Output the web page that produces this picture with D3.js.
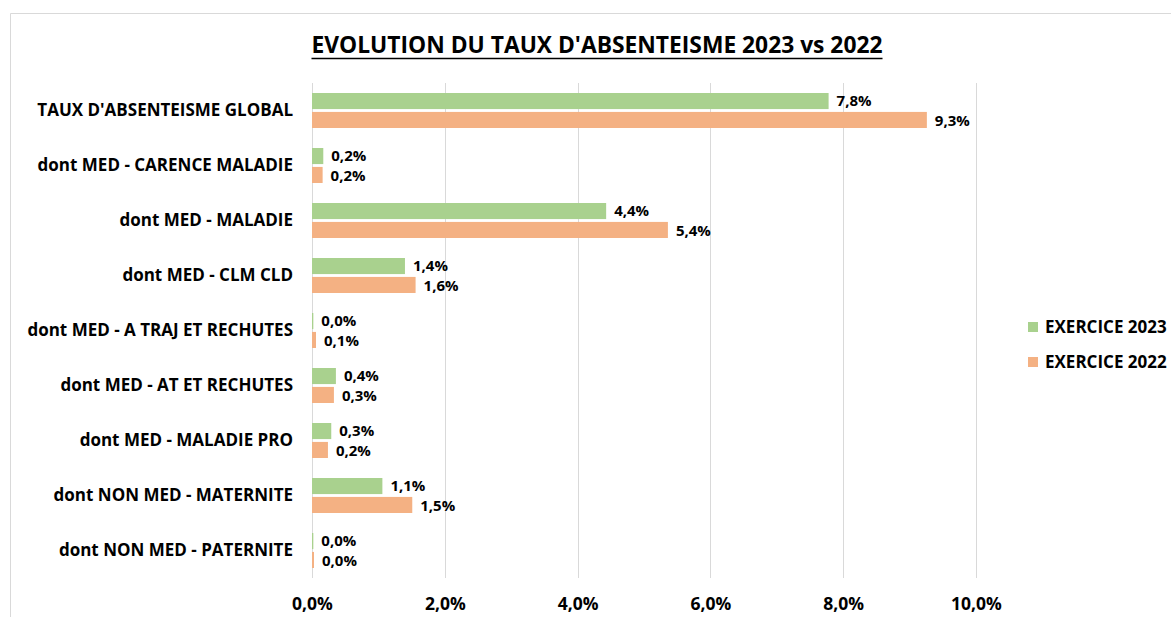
<!DOCTYPE html>
<html><head><meta charset="utf-8">
<script src="https://cdn.jsdelivr.net/npm/d3@7"></script>
<style>body{margin:0;background:#fff;} svg{display:block;}</style>
</head><body>
<svg id="c" width="1171" height="617"></svg>
<script>
const categories = ["TAUX D'ABSENTEISME GLOBAL","dont MED - CARENCE MALADIE","dont MED - MALADIE","dont MED - CLM CLD","dont MED - A TRAJ ET RECHUTES","dont MED - AT ET RECHUTES","dont MED - MALADIE PRO","dont NON MED - MATERNITE","dont NON MED - PATERNITE"];
const series2023 = [7.78, 0.17, 4.43, 1.40, 0.02, 0.36, 0.29, 1.06, 0.02];
const series2022 = [9.26, 0.16, 5.36, 1.56, 0.06, 0.33, 0.24, 1.51, 0.03];
const seriesNames = ["EXERCICE 2023","EXERCICE 2022"];
const colors = ["#a9d18e","#f4b183"];
const xTicks = [0,2,4,6,8,10];
const title = "EVOLUTION DU TAUX D'ABSENTEISME 2023 vs 2022";

const font = "'Open Sans', 'Liberation Sans', sans-serif";
const svg = d3.select("#c");
const W = 1171, H = 617;
const m = {left:312, right:976, top:83, bottom:578};

// outer border
svg.append("path").attr("d",`M10.5,${H} V13.5 H${W}`).attr("fill","none").attr("stroke","#d9d9d9");

const x = d3.scaleLinear().domain([0,10]).range([m.left, m.right]);
const y = d3.scaleBand().domain(categories).range([m.top, m.bottom]);
const innerH = 35;
const inner = d3.scaleBand().domain([0,1]).range([0, innerH]).paddingInner(0.15);
const fmt = v => d3.format(".1f")(v).replace(".",",") + "%";

// gridlines
svg.append("g").selectAll("line").data(xTicks).join("line")
  .attr("x1",d=>Math.round(x(d))+0.5).attr("x2",d=>Math.round(x(d))+0.5)
  .attr("y1",m.top).attr("y2",m.bottom)
  .attr("stroke","#d9d9d9").attr("stroke-width",1);

// x axis labels
const ax = svg.append("g").attr("transform",`translate(0,${m.bottom})`)
  .call(d3.axisBottom(x).tickValues(xTicks).tickSize(0).tickPadding(20).tickFormat(d=>d3.format(".1f")(d).replace(".",",")+"%"));
ax.select(".domain").remove();
ax.selectAll("text").attr("font-family",font).attr("font-weight","bold").attr("font-size",17.5).attr("fill","#000");

// y axis labels
const ay = svg.append("g").attr("transform",`translate(${m.left},0)`)
  .call(d3.axisLeft(y).tickSize(0).tickPadding(19));
ay.select(".domain").remove();
ay.selectAll("text").attr("font-family",font).attr("font-weight","bold").attr("font-size",17).attr("fill","#000");

const data = categories.map((c,i)=>({c, vals:[series2023[i], series2022[i]]}));
const off = (y.bandwidth()-innerH)/2;
const g = svg.append("g");
data.forEach(d=>{
  d.vals.forEach((v,j)=>{
    const yy = y(d.c)+off+inner(j);
    g.append("rect").attr("x",x(0)).attr("y",yy).attr("width",x(v)-x(0)).attr("height",inner.bandwidth()).attr("fill",colors[j]);
    g.append("text").attr("x",x(v)+8).attr("y",yy+inner.bandwidth()/2 + (j===0?-0.5:1)).attr("dy","0.36em")
      .attr("font-family",font).attr("font-weight","bold").attr("font-size",15).attr("fill","#000").text(fmt(v));
  });
});

// title
const t = svg.append("text").attr("x",597).attr("y",53).attr("text-anchor","middle")
  .attr("font-family",font).attr("font-weight","bold").attr("font-size",22.8).attr("fill","#000").text(title);
const bb = t.node().getBBox();
svg.append("line").attr("x1",bb.x).attr("x2",bb.x+bb.width).attr("y1",58.5).attr("y2",58.5).attr("stroke","#000").attr("stroke-width",1.5);

// legend
const lg = svg.append("g");
seriesNames.forEach((n,i)=>{
  const ly = 327 + i*35;
  lg.append("rect").attr("x",1028).attr("y",ly-5).attr("width",10).attr("height",10).attr("fill",colors[i]);
  lg.append("text").attr("x",1045).attr("y",ly).attr("dy","0.36em").attr("font-family",font).attr("font-weight","bold").attr("font-size",17).attr("fill","#000").text(n);
});
</script>
</body></html>
